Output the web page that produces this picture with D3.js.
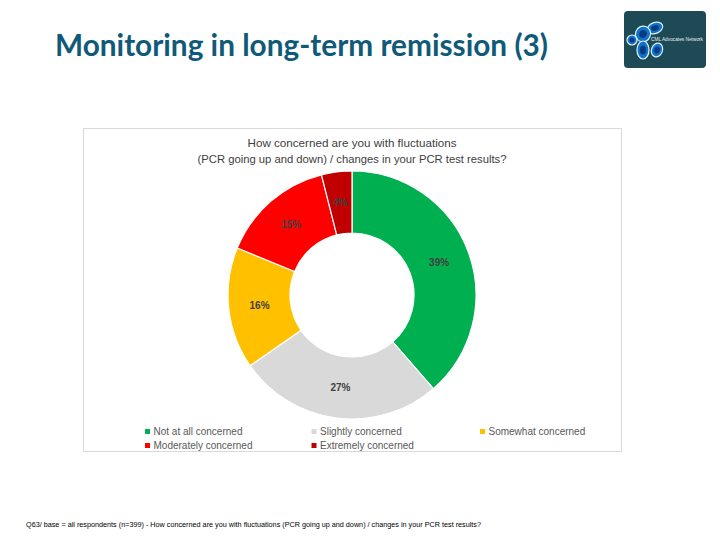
<!DOCTYPE html>
<html><head><meta charset="utf-8">
<script src="https://cdn.jsdelivr.net/npm/d3@7"></script>
<style>body{margin:0;background:#fff}svg{display:block}</style>
</head><body>
<svg id="c" width="720" height="540"></svg>
<script>
const pageTitle = "Monitoring in long-term remission (3)";
const chartTitle = ["How concerned are you with fluctuations", "(PCR going up and down) / changes in your PCR test results?"];
const categories = ["Not at all concerned", "Slightly concerned", "Somewhat concerned", "Moderately concerned", "Extremely concerned"];
const values = [39, 27, 16, 15, 4];
const colors = ["#00B050", "#D9D9D9", "#FFC000", "#FF0000", "#C00000"];
const footnote = "Q63/ base = all respondents (n=399) - How concerned are you with fluctuations (PCR going up and down) / changes in your PCR test results?";

const svg = d3.select("#c");

// page title
svg.append("text").attr("x", 55).attr("y", 56)
  .attr("font-family", "Lato").attr("font-weight", "bold").attr("font-size", 31).attr("fill", "#0f5a78")
  .attr("textLength", 493).attr("lengthAdjust", "spacingAndGlyphs")
  .text(pageTitle);

// logo
const logo = svg.append("g");
logo.append("rect").attr("x", 624).attr("y", 11).attr("width", 82).attr("height", 57).attr("rx", 4).attr("fill", "#1d4a54");
const blobs = [[655,28,8,5.5,-20],[643,34,7.5,8,20],[632,40,5,5,0],[643,50,6,9,0],[657,50,5.5,7,20]];
blobs.forEach(b => {
  const e = logo.append("g").attr("transform", `translate(${b[0]},${b[1]}) rotate(${b[4]})`);
  e.append("ellipse").attr("rx", b[2]).attr("ry", b[3])
    .attr("fill", "#1173c8").attr("stroke", "#dff3ff").attr("stroke-width", 1.2);
  e.append("ellipse").attr("rx", b[2]*0.5).attr("ry", b[3]*0.5).attr("fill", "#073a80");
});
logo.append("text").attr("x", 651).attr("y", 41).attr("font-family", "Liberation Sans").attr("font-size", 5.5)
  .attr("fill", "#e8f0f2").attr("textLength", 52).attr("lengthAdjust", "spacingAndGlyphs").text("CML Advocates Network");

// chart box
svg.append("rect").attr("x", 83.5).attr("y", 128.5).attr("width", 538).attr("height", 323)
  .attr("fill", "#fff").attr("stroke", "#d9d9d9").attr("stroke-width", 1);

const titleLens = [209, 309];
svg.append("text").attr("x", 352).attr("y", 147).attr("text-anchor", "middle")
  .attr("font-family", "Liberation Sans, Arial").attr("font-size", 11.5).attr("fill", "#404040")
  .selectAll("tspan").data(chartTitle).join("tspan")
  .attr("x", 352).attr("dy", (d, i) => i ? 16 : 0)
  .attr("textLength", (d, i) => titleLens[i]).attr("lengthAdjust", "spacingAndGlyphs")
  .text(d => d);

// donut
const cx = 352, cy = 295, rOuter = 124, rInner = 62;
const pie = d3.pie().sort(null).value(d => d)(values);
const arc = d3.arc().innerRadius(rInner).outerRadius(rOuter);
const g = svg.append("g").attr("transform", `translate(${cx},${cy})`);
g.selectAll("path").data(pie).join("path")
  .attr("d", arc).attr("fill", (d, i) => colors[i])
  .attr("stroke", "#fff").attr("stroke-width", 1.2);
g.selectAll("text").data(pie).join("text")
  .attr("transform", d => `translate(${arc.centroid(d)})`)
  .attr("text-anchor", "middle").attr("dy", "0.35em")
  .attr("font-family", "Liberation Sans, Arial").attr("font-weight", "bold").attr("font-size", 10)
  .attr("fill", "#404040")
  .text(d => d.data + "%");

// legend
const legX = [147.5, 314, 482.5];
const leg = svg.append("g");
categories.forEach((c, i) => {
  const x = legX[i % 3], y = 431.5 + Math.floor(i / 3) * 14;
  leg.append("rect").attr("x", x - 2.5).attr("y", y - 2.5).attr("width", 5).attr("height", 5).attr("fill", colors[i]);
  leg.append("text").attr("x", x + 6).attr("y", y).attr("dy", "0.35em")
    .attr("font-family", "Liberation Sans, Arial").attr("font-size", 10).attr("fill", "#595959").text(c);
});

// footnote
svg.append("text").attr("x", 26).attr("y", 527)
  .attr("font-family", "Liberation Sans Narrow, Liberation Sans").attr("font-size", 7.5).attr("fill", "#000")
  .attr("textLength", 455).attr("lengthAdjust", "spacingAndGlyphs")
  .text(footnote);
</script>
</body></html>
